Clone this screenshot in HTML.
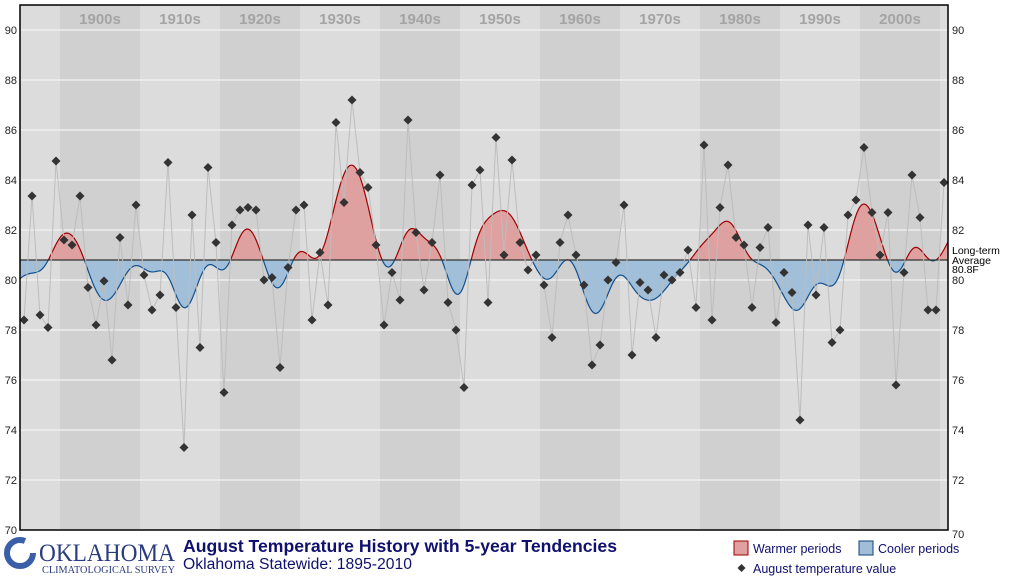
<!DOCTYPE html>
<html><head><meta charset="utf-8">
<style>
body{margin:0;background:#fff;font-family:"Liberation Sans",Arial,sans-serif;}
</style></head>
<body>
<svg id="chart" width="1013" height="580" viewBox="0 0 1013 580" xmlns="http://www.w3.org/2000/svg" font-family="Liberation Sans, Arial, sans-serif">
<defs>
<clipPath id="above"><rect x="20" y="0" width="928" height="260.5"/></clipPath>
<clipPath id="below"><rect x="20" y="260" width="928" height="280"/></clipPath>
</defs>
<g id="bands"></g>
<g id="grid"></g>
<g id="areas"></g>
<g id="raw"></g>
<g id="pts"></g>
<g id="axes"></g>
<g>
<circle cx="20" cy="553" r="13" fill="none" stroke="#3a5fa8" stroke-width="6" stroke-dasharray="66 16"/>
<text x="39" y="561" style="font-family:'Liberation Serif',serif;font-size:25px" textLength="136" lengthAdjust="spacingAndGlyphs" fill="#2b3c7e">OKLAHOMA</text>
<text x="42" y="573" style="font-family:'Liberation Serif',serif;font-size:10px" textLength="133" lengthAdjust="spacingAndGlyphs" fill="#2b3c7e">CLIMATOLOGICAL SURVEY</text>
</g>
<text x="183" y="552" font-size="17.5" font-weight="bold" fill="#10106e" textLength="434" lengthAdjust="spacingAndGlyphs">August Temperature History with 5-year Tendencies</text>
<text x="183" y="569" font-size="15.5" fill="#10106e" textLength="229" lengthAdjust="spacingAndGlyphs">Oklahoma Statewide: 1895-2010</text>
<g>
<rect x="734" y="541" width="14" height="14" fill="#e0a0a0" stroke="#a00000"/>
<text x="753" y="553" font-size="12.5" fill="#10106e">Warmer periods</text>
<rect x="859" y="541" width="14" height="14" fill="#a0bed8" stroke="#10407e"/>
<text x="878" y="553" font-size="12.5" fill="#10106e">Cooler periods</text>
<path d="M741.5 564 L745.5 568 L741.5 572 L737.5 568Z" fill="#333"/>
<text x="753" y="573" font-size="12.5" fill="#10106e">August temperature value</text>
</g>
</svg>
<script>
const startYear = 1895;
const temps = [78.4,83.36,78.6,78.1,84.76,81.6,81.4,83.36,79.7,78.2,79.96,76.8,81.7,79.0,83.0,80.2,78.8,79.4,84.7,78.9,73.3,82.6,77.3,84.5,81.5,75.5,82.2,82.8,82.9,82.8,80.0,80.1,76.5,80.5,82.8,83.0,78.4,81.1,79.0,86.3,83.1,87.2,84.3,83.7,81.4,78.2,80.3,79.2,86.4,81.9,79.6,81.5,84.2,79.1,78.0,75.7,83.8,84.4,79.1,85.7,81.0,84.8,81.5,80.4,81.0,79.8,77.7,81.5,82.6,81.0,79.8,76.6,77.4,80.0,80.7,83.0,77.0,79.9,79.6,77.7,80.2,80.0,80.3,81.2,78.9,85.4,78.4,82.9,84.6,81.7,81.4,78.9,81.3,82.1,78.3,80.3,79.5,74.4,82.2,79.4,82.1,77.5,78.0,82.6,83.2,85.3,82.7,81.0,82.7,75.8,80.3,84.2,82.5,78.8,78.8,83.9];
const average = 80.8;
const yTicks = [70,72,74,76,78,80,82,84,86,88,90];
const decades = ["1900s","1910s","1920s","1930s","1940s","1950s","1960s","1970s","1980s","1990s","2000s"];
const NS='http://www.w3.org/2000/svg';
const L=20,R=948,T=5,B=530;
const x=yr=>24+(yr-startYear)*8;
const y=v=>530-(v-70)*25;
function mk(tag,attrs,parent){const e=document.createElementNS(NS,tag);for(const k in attrs)e.setAttribute(k,attrs[k]);parent.appendChild(e);return e;}
const g=id=>document.getElementById(id);
mk('rect',{x:L,y:T,width:R-L,height:B-T,fill:'#dcdcdc'},g('bands'));
decades.forEach((d,i)=>{
  const x0=x(1900+i*10)-4, x1=Math.min(x0+80,R);
  if(i%2===0){const r=mk('rect',{x:x0,y:T,width:x1-x0,height:B-T,fill:'#d0d0d0'},g('bands'));
  
  }
  const t=mk('text',{x:x0+40,y:24,'text-anchor':'middle','font-size':15,'font-weight':'bold',fill:'#a4a4a4'},g('bands'));
  t.textContent=d;
  
  
});
yTicks.forEach(v=>{
  if(v>70&&v<=90){const l=mk('line',{x1:L,x2:R,y1:y(v),y2:y(v),stroke:'#f4f4f4','stroke-width':1.2},g('grid'));
  
  }
  const a=mk('text',{x:17,y:y(v)+4,'text-anchor':'end','font-size':11,fill:'#222'},g('axes'));a.textContent=v;
  
  
  const b=mk('text',{x:952,y:y(v)+4+(v===70?4:0),'font-size':11,fill:'#222'},g('axes'));b.textContent=v;
  
  
});
const sig=1.5;
function sm(t){let s=0,w=0;temps.forEach((v,i)=>{const d=t-i;const ww=Math.exp(-d*d/(2*sig*sig));s+=ww*v;w+=ww;});return s/w;}
let pts=[];for(let px=L;px<=R;px++){const t=(px-24)/8;pts.push([px,y(sm(t))]);}
const line='M'+pts.map(p=>p[0]+' '+p[1].toFixed(2)).join(' L');
const area=line+` L${R} ${y(average)} L${L} ${y(average)} Z`;
const ga=g('areas');
const wa=mk('path',{d:area,fill:'#dfa0a0','clip-path':'url(#above)'},ga);


const ca=mk('path',{d:area,fill:'#a2bfd9','clip-path':'url(#below)'},ga);


mk('path',{d:line,fill:'none',stroke:'#a00000','stroke-width':1.2,'clip-path':'url(#above)'},ga);
mk('path',{d:line,fill:'none',stroke:'#10508e','stroke-width':1.2,'clip-path':'url(#below)'},ga);
const avg=mk('line',{x1:L,x2:R,y1:y(average),y2:y(average),stroke:'#333','stroke-width':1.2},ga);


const rl=mk('path',{d:'M'+temps.map((v,i)=>x(startYear+i)+' '+y(v)).join(' L'),fill:'none',stroke:'#bdbdbd','stroke-width':1},g('raw'));


temps.forEach((v,i)=>{const cx=x(startYear+i),cy=y(v);
  const p=mk('path',{d:`M${cx} ${cy-4.5} L${cx+4.5} ${cy} L${cx} ${cy+4.5} L${cx-4.5} ${cy}Z`,fill:'#333'},g('pts'));
  
  
});
const fr=mk('rect',{x:L,y:T,width:R-L,height:B-T,fill:'none',stroke:'#000','stroke-width':1.5},g('axes'));


['Long-term','Average',average+'F'].forEach((s,i)=>{const t=mk('text',{x:952,y:[254,264,273][i],'font-size':10.5,fill:'#000'},g('axes'));t.textContent=s;
  
  });
</script>
</body></html>
